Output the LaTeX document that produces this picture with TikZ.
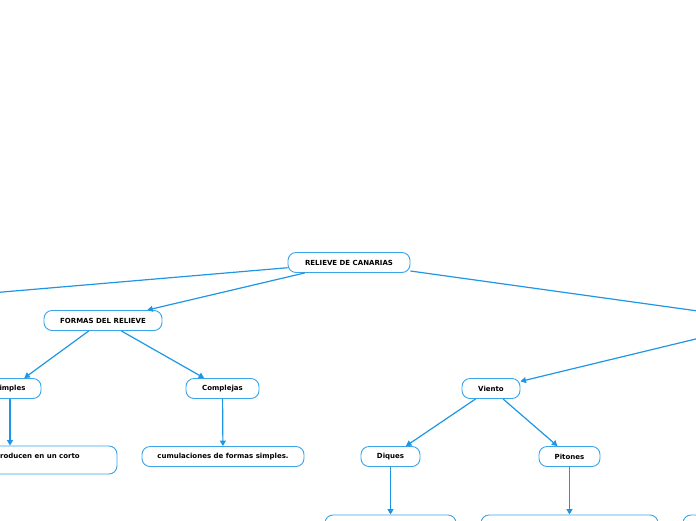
\documentclass[tikz,border=0pt]{standalone}
\usepackage{fontspec}
\setsansfont{DejaVu Sans}
\usetikzlibrary{arrows.meta}
\definecolor{lineblue}{RGB}{30,150,228}
\definecolor{boxblue}{RGB}{58,164,234}

\begin{document}
\begin{tikzpicture}[x=1pt,y=-1pt,
    topic/.style={draw=boxblue,line width=0.9pt,rounded corners=8pt,fill=white,
        font=\sffamily\bfseries\fontsize{7}{8.4}\selectfont,inner sep=0pt,minimum height=20pt},
    link/.style={draw=lineblue,line width=1.2pt,-{Triangle[length=5.5pt,width=6pt]}},
    plain/.style={draw=lineblue,line width=1.2pt}]
    \pgfmathsetmacro{\pagewidth}{696}
    \pgfmathsetmacro{\pageheight}{520}
    \useasboundingbox (0,0) rectangle (\pagewidth,\pageheight);
    \clip (0,0) rectangle (\pagewidth,\pageheight);
    % main topic and the two branches that leave the page
    \node[topic,minimum width=122pt] (canarias) at (349,262.5) {RELIEVE DE CANARIAS};
    \node[topic,minimum width=100pt] (offleft) at (-80,299) {};
    \node[topic,minimum width=100pt] (offright) at (770,321) {};
    % left branch
    \node[topic,minimum width=118pt] (formas) at (103,320.5) {FORMAS DEL RELIEVE};
    \node[topic,minimum width=62pt] (simples) at (10,388.5) {Simples};
    \node[topic,minimum width=73pt] (complejas) at (222.5,388.5) {Complejas};
    \node[topic,minimum width=214pt,minimum height=28pt] (corto) at (10,460) {};
    \node[font=\sffamily\bfseries\fontsize{7}{8.4}\selectfont,inner sep=0pt,anchor=east] (cortotext) at (80,456.5) {producen en un corto};
    \node[topic,minimum width=162pt] (acumul) at (223,456.5) {cumulaciones de formas simples.};
    % right branch
    \node[topic,minimum width=58pt] (viento) at (491,388.5) {Viento};
    \node[topic,minimum width=59pt] (diques) at (390.5,456.5) {Diques};
    \node[topic,minimum width=61pt] (pitones) at (569.5,456.5) {Pitones};
    \node[topic,minimum width=131pt,minimum height=28pt] (diquesbox) at (390.5,529) {};
    \node[topic,minimum width=177pt,minimum height=28pt] (pitonesbox) at (569.5,529) {};
    \node[topic,minimum width=134pt,minimum height=28pt] (lastbox) at (750,529) {};
    % connectors
    \draw[plain] (canarias) -- (offleft);
    \draw[plain] (canarias) -- (offright);
    \draw[link] (canarias) -- (formas);
    \draw[link] (formas) -- (simples);
    \draw[link] (formas) -- (complejas);
    \draw[link] (simples.south) -- (simples.south |- corto.north);
    \draw[link] (complejas) -- (acumul);
    \draw[link] (offright) -- (viento);
    \draw[link] (viento) -- (diques);
    \draw[link] (viento) -- (pitones);
    \draw[link] (diques) -- (diquesbox);
    \draw[link] (pitones) -- (pitonesbox);
\end{tikzpicture}
\end{document}
